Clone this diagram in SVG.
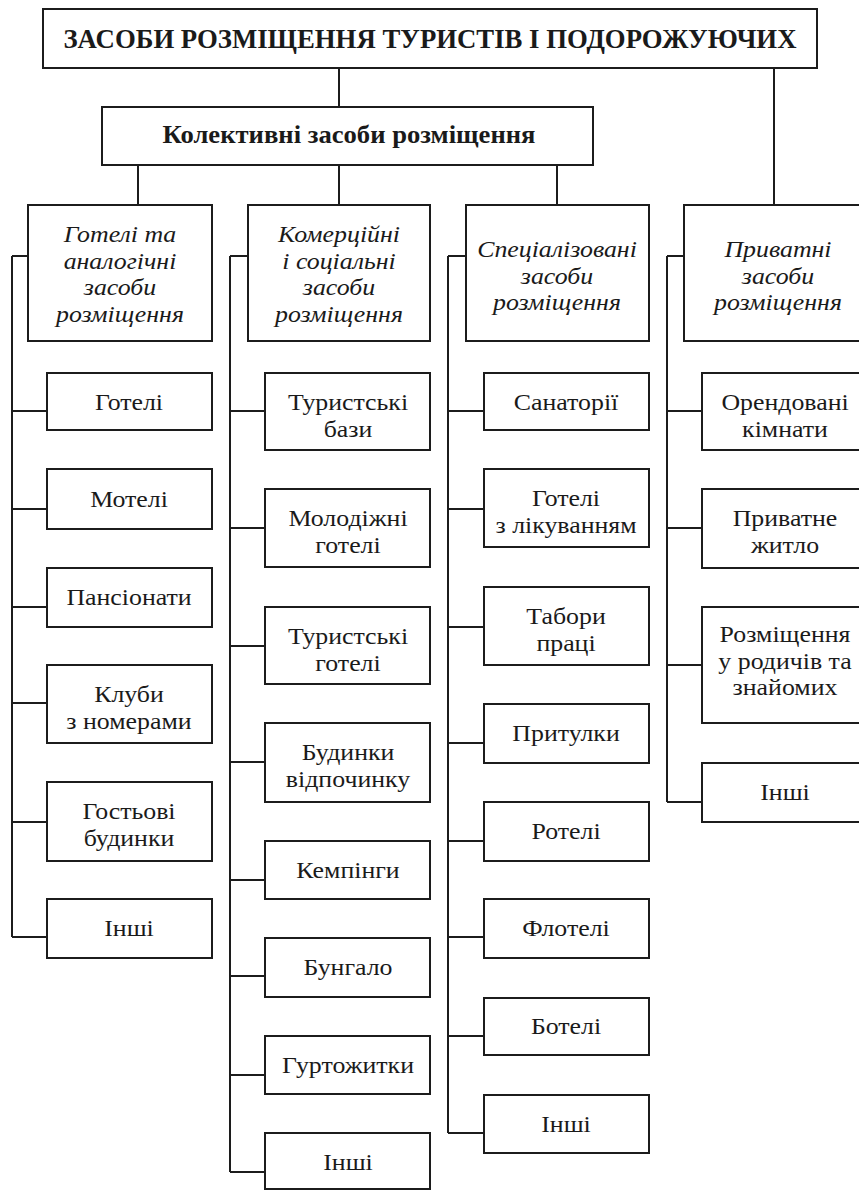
<svg xmlns="http://www.w3.org/2000/svg" width="859" height="1191" viewBox="0 0 859 1191">
<style>
.box{fill:#fff;stroke:#1c1c1c;stroke-width:2}
.conn{stroke:#1c1c1c;stroke-width:2;fill:none}
text{font-family:"Liberation Serif","DejaVu Serif",serif;fill:#1a1a1a;text-anchor:middle}
.title{font-size:28px;font-weight:bold}
.sub{font-size:25px;font-weight:bold}
.hdr{font-size:23.5px;font-style:italic}
.item{font-size:23.5px}
</style>
<rect width="859" height="1191" fill="#fff"/>
<g id="connectors">
<path class="conn" d="M339 68V107M774 68V205M138 165V205M339 165V205M557 165V205"/>
<path class="conn" d="M12 256H28M12 256V937M12 411H47M12 509H47M12 607H47M12 703H47M12 822H47M12 937H47"/>
<path class="conn" d="M230 256H248M230 256V1172M230 411H265M230 528H265M230 646H265M230 762H265M230 880H265M230 976H265M230 1075H265M230 1172H265"/>
<path class="conn" d="M448 256H466M448 256V1133M448 411H484M448 509H484M448 627H484M448 743H484M448 841H484M448 937H484M448 1036H484M448 1133H484"/>
<path class="conn" d="M667 256H684M667 256V802M667 411H702M667 528H702M667 665H702M667 802H702"/>
</g>
<g id="root"><rect class="box" x="43" y="9" width="774" height="59"/><text class="title" x="430" y="48" textLength="733" lengthAdjust="spacingAndGlyphs">ЗАСОБИ РОЗМІЩЕННЯ ТУРИСТІВ І ПОДОРОЖУЮЧИХ</text></g>
<g id="collective"><rect class="box" x="102" y="107" width="491" height="58"/><text class="sub" x="349" y="143" textLength="373" lengthAdjust="spacingAndGlyphs">Колективні засоби розміщення</text></g>
<g id="h1"><rect class="box" x="28" y="205" width="184" height="136"/><text class="hdr" transform="translate(120 242) scale(1.1 1)">Готелі та</text><text class="hdr" transform="translate(120 268.5) scale(1.1 1)">аналогічні</text><text class="hdr" transform="translate(120 295) scale(1.1 1)">засоби</text><text class="hdr" transform="translate(120 321.5) scale(1.1 1)">розміщення</text></g>
<g id="h2"><rect class="box" x="248" y="205" width="182" height="136"/><text class="hdr" transform="translate(339 242) scale(1.1 1)">Комерційні</text><text class="hdr" transform="translate(339 268.5) scale(1.1 1)">і соціальні</text><text class="hdr" transform="translate(339 295) scale(1.1 1)">засоби</text><text class="hdr" transform="translate(339 321.5) scale(1.1 1)">розміщення</text></g>
<g id="h3"><rect class="box" x="466" y="205" width="183" height="136"/><text class="hdr" transform="translate(557 257) scale(1.1 1)">Спеціалізовані</text><text class="hdr" transform="translate(557 283.5) scale(1.1 1)">засоби</text><text class="hdr" transform="translate(557 310) scale(1.1 1)">розміщення</text></g>
<g id="h4"><rect class="box" x="684" y="205" width="184" height="136"/><text class="hdr" transform="translate(778 257) scale(1.1 1)">Приватні</text><text class="hdr" transform="translate(778 283.5) scale(1.1 1)">засоби</text><text class="hdr" transform="translate(778 310) scale(1.1 1)">розміщення</text></g>
<g id="c1-hotels"><rect class="box" x="47" y="373" width="165" height="57"/><text class="item" transform="translate(129 410) scale(1.1 1)">Готелі</text></g>
<g id="c1-motels"><rect class="box" x="47" y="469" width="165" height="60"/><text class="item" transform="translate(129 507) scale(1.1 1)">Мотелі</text></g>
<g id="c1-boarding"><rect class="box" x="47" y="568" width="165" height="59"/><text class="item" transform="translate(129 605) scale(1.1 1)">Пансіонати</text></g>
<g id="c1-clubs"><rect class="box" x="47" y="665" width="165" height="78"/><text class="item" transform="translate(129 702) scale(1.1 1)">Клуби</text><text class="item" transform="translate(129 728.5) scale(1.1 1)">з номерами</text></g>
<g id="c1-guest"><rect class="box" x="47" y="782" width="165" height="79"/><text class="item" transform="translate(129 819) scale(1.1 1)">Гостьові</text><text class="item" transform="translate(129 845.5) scale(1.1 1)">будинки</text></g>
<g id="c1-other"><rect class="box" x="47" y="899" width="165" height="59"/><text class="item" transform="translate(129 936) scale(1.1 1)">Інші</text></g>
<g id="c2-tbases"><rect class="box" x="265" y="373" width="165" height="77"/><text class="item" transform="translate(348 410) scale(1.1 1)">Туристські</text><text class="item" transform="translate(348 436.5) scale(1.1 1)">бази</text></g>
<g id="c2-youth"><rect class="box" x="265" y="489" width="165" height="78"/><text class="item" transform="translate(348 526) scale(1.1 1)">Молодіжні</text><text class="item" transform="translate(348 552.5) scale(1.1 1)">готелі</text></g>
<g id="c2-thotels"><rect class="box" x="265" y="607" width="165" height="77"/><text class="item" transform="translate(348 644) scale(1.1 1)">Туристські</text><text class="item" transform="translate(348 670.5) scale(1.1 1)">готелі</text></g>
<g id="c2-rest"><rect class="box" x="265" y="723" width="165" height="79"/><text class="item" transform="translate(348 760) scale(1.1 1)">Будинки</text><text class="item" transform="translate(348 786.5) scale(1.1 1)">відпочинку</text></g>
<g id="c2-camping"><rect class="box" x="265" y="841" width="165" height="58"/><text class="item" transform="translate(348 878) scale(1.1 1)">Кемпінги</text></g>
<g id="c2-bungalow"><rect class="box" x="265" y="938" width="165" height="59"/><text class="item" transform="translate(348 975) scale(1.1 1)">Бунгало</text></g>
<g id="c2-dorms"><rect class="box" x="265" y="1036" width="165" height="58"/><text class="item" transform="translate(348 1073) scale(1.1 1)">Гуртожитки</text></g>
<g id="c2-other"><rect class="box" x="265" y="1133" width="165" height="56"/><text class="item" transform="translate(348 1170) scale(1.1 1)">Інші</text></g>
<g id="c3-sanatoria"><rect class="box" x="484" y="373" width="165" height="57"/><text class="item" transform="translate(566 410) scale(1.1 1)">Санаторії</text></g>
<g id="c3-medhotels"><rect class="box" x="484" y="469" width="165" height="78"/><text class="item" transform="translate(566 506) scale(1.1 1)">Готелі</text><text class="item" transform="translate(566 532.5) scale(1.1 1)">з лікуванням</text></g>
<g id="c3-camps"><rect class="box" x="484" y="587" width="165" height="78"/><text class="item" transform="translate(566 624) scale(1.1 1)">Табори</text><text class="item" transform="translate(566 650.5) scale(1.1 1)">праці</text></g>
<g id="c3-shelters"><rect class="box" x="484" y="704" width="165" height="59"/><text class="item" transform="translate(566 741) scale(1.1 1)">Притулки</text></g>
<g id="c3-rotels"><rect class="box" x="484" y="802" width="165" height="59"/><text class="item" transform="translate(566 839) scale(1.1 1)">Ротелі</text></g>
<g id="c3-flotels"><rect class="box" x="484" y="899" width="165" height="59"/><text class="item" transform="translate(566 936) scale(1.1 1)">Флотелі</text></g>
<g id="c3-botels"><rect class="box" x="484" y="998" width="165" height="57"/><text class="item" transform="translate(566 1034) scale(1.1 1)">Ботелі</text></g>
<g id="c3-other"><rect class="box" x="484" y="1095" width="165" height="58"/><text class="item" transform="translate(566 1132) scale(1.1 1)">Інші</text></g>
<g id="c4-rooms"><rect class="box" x="702" y="373" width="165" height="77"/><text class="item" transform="translate(785 410) scale(1.1 1)">Орендовані</text><text class="item" transform="translate(785 436.5) scale(1.1 1)">кімнати</text></g>
<g id="c4-private"><rect class="box" x="702" y="489" width="165" height="79"/><text class="item" transform="translate(785 526) scale(1.1 1)">Приватне</text><text class="item" transform="translate(785 552.5) scale(1.1 1)">житло</text></g>
<g id="c4-relatives"><rect class="box" x="702" y="607" width="165" height="116"/><text class="item" transform="translate(785 642) scale(1.1 1)">Розміщення</text><text class="item" transform="translate(785 668.5) scale(1.1 1)">у родичів та</text><text class="item" transform="translate(785 695) scale(1.1 1)">знайомих</text></g>
<g id="c4-other"><rect class="box" x="702" y="763" width="165" height="59"/><text class="item" transform="translate(785 800) scale(1.1 1)">Інші</text></g>
</svg>
